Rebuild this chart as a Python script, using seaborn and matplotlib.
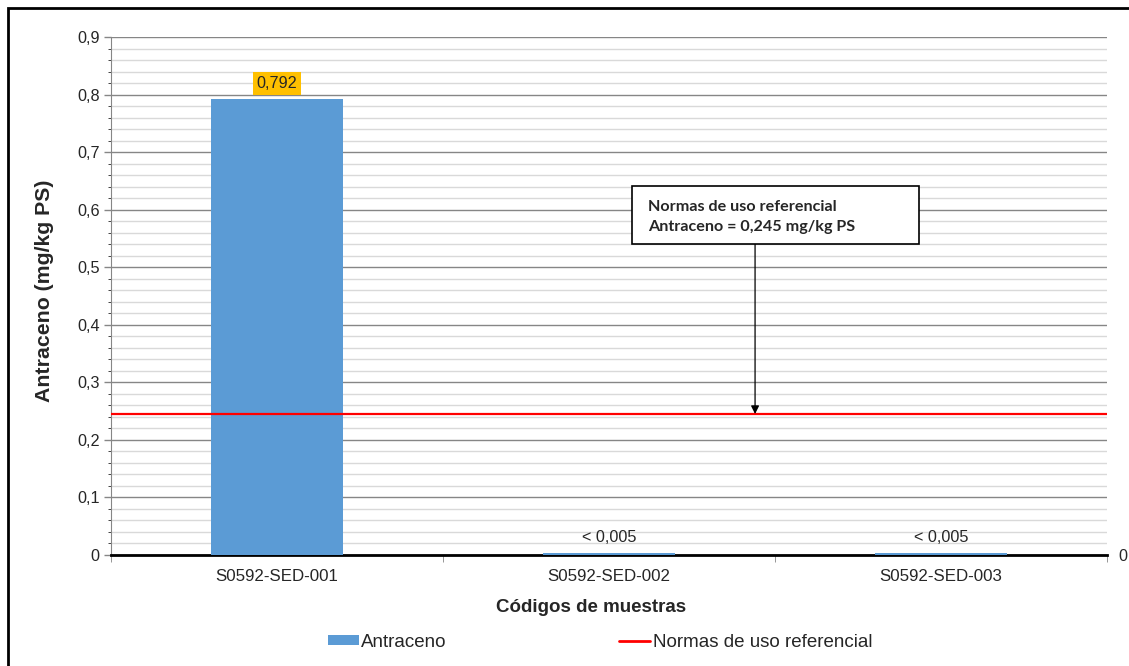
import matplotlib
matplotlib.use("Agg")
import matplotlib.pyplot as plt
import seaborn as sns
import pandas as pd
import numpy as np
from matplotlib.patches import Rectangle
from matplotlib.lines import Line2D
from matplotlib.patches import Patch

# ---- data ----
categories = ["S0592-SED-001", "S0592-SED-002", "S0592-SED-003"]
values = [0.792, 0.003, 0.003]
value_labels = ["0,792", "< 0,005", "< 0,005"]
reference_value = 0.245
y_ticks = [0.0, 0.1, 0.2, 0.3, 0.4, 0.5, 0.6, 0.7, 0.8, 0.9]
y_tick_labels = ["0", "0,1", "0,2", "0,3", "0,4", "0,5", "0,6", "0,7", "0,8", "0,9"]

sns.set_style("white")
plt.rcParams["font.family"] = ["Liberation Sans", "DejaVu Sans"]

df = pd.DataFrame({"Código": categories, "Antraceno": values})

fig = plt.figure(figsize=(11.29, 6.66), dpi=100)
ax = fig.add_axes([0.0983, 0.1667, 0.8822, 0.7777])

sns.barplot(data=df, x="Código", y="Antraceno", color="#5B9BD5", width=0.4,
            saturation=1, ax=ax, zorder=3, linewidth=0)

ax.set_ylim(0, 0.9)
ax.set_xlim(-0.5, len(categories) - 0.5)

# grid
ax.set_yticks(y_ticks)
ax.set_yticklabels(y_tick_labels, fontsize=11.7)
ax.set_yticks(np.arange(0, 0.9001, 0.02), minor=True)
ax.grid(axis="y", which="major", color="#868686", linewidth=1.0, zorder=0)
ax.grid(axis="y", which="minor", color="#D9D9D9", linewidth=1.0, zorder=0)
ax.set_axisbelow(True)
ax.tick_params(axis="y", which="major", direction="out", length=5, width=1, color="#868686", left=True, pad=3)
ax.tick_params(axis="y", which="minor", left=False)

# x ticks at category boundaries
ax.set_xticks(range(len(categories)))
ax.set_xticklabels(categories, fontsize=12.2)
ax.tick_params(axis="x", which="major", length=0, pad=10)
ax.set_xticks(np.arange(-0.5, len(categories)), minor=True)
ax.tick_params(axis="x", which="minor", direction="out", length=5, color="#868686", bottom=True)

for s in ["top", "right"]:
    ax.spines[s].set_visible(False)
ax.spines["left"].set_color("#868686")
ax.spines["bottom"].set_color("black")
ax.spines["bottom"].set_linewidth(2)

ax.set_xlabel("Códigos de muestras", fontsize=13.5, fontweight="bold")
ax.xaxis.set_label_coords(0.482, -0.085)
ax.set_ylabel("Antraceno (mg/kg PS)", fontsize=15.3, fontweight="bold")
ax.yaxis.set_label_coords(-0.057, 0.51)

# reference line
ax.axhline(reference_value, color="#FF0000", linewidth=1.6, zorder=4)

# value labels
for i, (v, lab) in enumerate(zip(values, value_labels)):
    if i == 0:
        ax.annotate(lab, (i, v), xytext=(0, 11), textcoords="offset points",
                    ha="center", va="center", fontsize=11.7,
                    bbox=dict(boxstyle="square,pad=0.25", fc="#FFC000", ec="none"), zorder=5)
    else:
        ax.annotate(lab, (i, v), xytext=(0, 11), textcoords="offset points",
                    ha="center", va="center", fontsize=11.7, zorder=5)

# annotation box with arrow
box_x0, box_x1, box_y0, box_y1 = 1.069, 1.934, 0.540, 0.641
ax.add_patch(Rectangle((box_x0, box_y0), box_x1 - box_x0, box_y1 - box_y0,
                       fc="white", ec="black", lw=1.2, zorder=7))
ax.text(box_x0 + 0.05, box_y1 - 0.024, "Normas de uso referencial\nAntraceno = 0,245 mg/kg PS",
        fontsize=11.6, fontweight="bold", family=["Lato", "DejaVu Sans"],
        ha="left", va="top", linespacing=1.55, zorder=8)
ax.annotate("", xy=(1.440, reference_value), xytext=(1.440, box_y0),
            arrowprops=dict(arrowstyle="-|>", color="black", lw=0.9, mutation_scale=12,
                            shrinkA=0, shrinkB=0), zorder=6)

# secondary axis
ax2 = ax.twinx()
ax2.set_ylim(0, 0.9)
ax2.set_yticks([0])
ax2.set_yticklabels(["0"], fontsize=11.7)
ax2.tick_params(axis="y", length=0, pad=8)
for s in ax2.spines.values():
    s.set_visible(False)

# legend
handles = [Patch(facecolor="#5B9BD5", edgecolor="none"),
           Line2D([0], [0], color="#FF0000", lw=2)]
fig.legend(handles, ["Antraceno", "Normas de uso referencial"], loc="center",
           bbox_to_anchor=(0.5315, 0.036), ncol=2, frameon=False, fontsize=13.5,
           columnspacing=9.2, handlelength=1.65, handletextpad=0.15, handleheight=0.45)

# outer border
fig.patches.append(Rectangle((0.007, -0.01), 1.0, 0.998, transform=fig.transFigure,
                             fill=False, ec="black", lw=2))

fig.savefig("out.png", dpi=100)
